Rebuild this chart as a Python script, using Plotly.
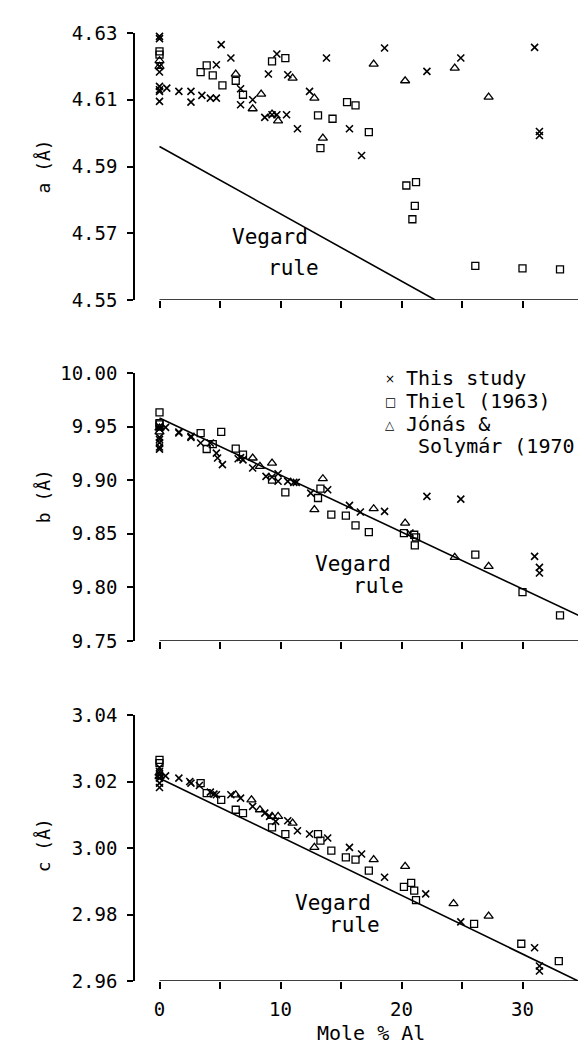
import plotly.graph_objects as go

# ---------------- data ----------------
# Panel a : lattice parameter a (Å)
this_x_a = [0, 0, 0, 0, 0, 0, 0, 0, 0, 0.6, 1.6, 2.6, 2.6, 3.5, 4.2, 4.7, 4.7, 5.1, 5.9, 6.7, 6.7,
            7.7, 8.7, 9.0, 9.3, 9.7, 9.7, 10.5, 10.6, 11.4, 12.4, 13.8, 15.7, 16.7, 18.6, 22.1, 24.9,
            31.0, 31.4, 31.4]
this_a = [4.6325, 4.6290, 4.6283, 4.6200, 4.6183, 4.6140, 4.6130, 4.6125, 4.6095, 4.6135, 4.6125,
          4.6125, 4.6093, 4.6113, 4.6105, 4.6105, 4.6205, 4.6265, 4.6225, 4.6133, 4.6085, 4.6100,
          4.6047, 4.6177, 4.6055, 4.6237, 4.6055, 4.6055, 4.6175, 4.6013, 4.6125, 4.6225, 4.6013,
          4.5933, 4.6255, 4.6185, 4.6225, 4.6257, 4.6005, 4.5993]
thiel_x_a = [0, 0, 3.4, 3.9, 4.4, 5.2, 6.3, 6.9, 9.3, 10.4, 13.1, 13.3, 14.3, 15.5, 16.2, 17.3,
             20.4, 21.2, 21.1, 20.9, 26.1, 30.0, 33.1]
thiel_a = [4.6245, 4.6235, 4.6183, 4.6203, 4.6173, 4.6143, 4.6157, 4.6115, 4.6215, 4.6225, 4.6053,
           4.5955, 4.6043, 4.6093, 4.6083, 4.6003, 4.5843, 4.5853, 4.5782, 4.5742, 4.5602, 4.5595,
           4.5592]
jonas_x_a = [0, 0, 6.3, 7.7, 8.4, 9.3, 9.8, 11.0, 12.8, 13.5, 17.7, 20.3, 24.4, 27.2]
jonas_a = [4.6217, 4.6200, 4.6177, 4.6073, 4.6117, 4.6057, 4.6037, 4.6165, 4.6105, 4.5985, 4.6207,
           4.6157, 4.6195, 4.6108]
vegard_x_a = [0, 22.8]
vegard_a = [4.596, 4.55]

# Panel b : lattice parameter b (Å)
this_x_b = [0, 0, 0, 0, 0, 0, 0, 0.5, 1.6, 1.6, 2.6, 2.6, 3.4, 4.2, 4.7, 4.8, 5.2, 6.5, 6.7, 6.9,
            7.7, 8.8, 9.3, 9.8, 9.8, 10.6, 11.1, 11.3, 12.5, 13.9, 15.7, 16.6, 18.6, 20.7, 22.1,
            24.9, 31.0, 31.4, 31.4]
this_b = [9.950, 9.948, 9.940, 9.938, 9.935, 9.931, 9.929, 9.9493, 9.944, 9.945, 9.940, 9.941,
          9.9347, 9.9347, 9.9253, 9.9207, 9.9145, 9.920, 9.921, 9.919, 9.9114, 9.9036, 9.903,
          9.899, 9.906, 9.8989, 9.898, 9.898, 9.888, 9.8911, 9.8765, 9.8703, 9.8709, 9.8507,
          9.8849, 9.8824, 9.8289, 9.8187, 9.8134]
thiel_x_b = [0, 0, 0, 3.4, 3.9, 4.4, 5.1, 6.3, 6.9, 9.3, 10.4, 13.1, 13.3, 14.2, 15.4, 16.2, 17.3,
             20.2, 21.05, 21.2, 21.1, 26.1, 30.0, 33.1]
thiel_b = [9.9633, 9.9533, 9.952, 9.944, 9.9291, 9.9337, 9.945, 9.9294, 9.9238, 9.9005, 9.8886,
           9.8834, 9.8921, 9.8678, 9.8669, 9.8579, 9.8516, 9.8507, 9.8491, 9.8467, 9.8392, 9.8305,
           9.7956, 9.7739]
jonas_x_b = [0, 0, 7.7, 8.3, 9.3, 12.8, 13.5, 17.7, 20.3, 24.4, 27.2]
jonas_b = [9.9487, 9.945, 9.9207, 9.9129, 9.916, 9.8725, 9.9014, 9.8734, 9.860, 9.828, 9.8196]
vegard_x_b = [0, 35]
vegard_b = [9.958, 9.772]

# Panel c : lattice parameter c (Å)
this_x_c = [0, 0, 0, 0, 0, 0, 0.5, 1.6, 2.5, 2.6, 3.3, 4.2, 4.5, 4.7, 5.9, 6.7, 7.7, 8.7, 9.1, 9.6,
            10.6, 11.4, 12.4, 13.9, 15.7, 16.7, 18.6, 22.0, 24.9, 31.0, 31.4, 31.4]
this_c = [3.0242, 3.0230, 3.0220, 3.0210, 3.0195, 3.0182, 3.0217, 3.021, 3.020, 3.0195, 3.0188,
          3.0168, 3.0162, 3.016, 3.016, 3.015, 3.0125, 3.0105, 3.0095, 3.008, 3.0082, 3.0052,
          3.0042, 3.003, 3.0002, 2.9982, 2.9912, 2.9862, 2.9778, 2.970, 2.9645, 2.963]
thiel_x_c = [0, 0, 3.4, 3.9, 5.1, 6.3, 6.9, 9.3, 10.4, 13.1, 13.3, 14.2, 15.4, 16.2, 17.3, 20.2,
             20.8, 21.05, 21.2, 26.0, 29.9, 33.0]
thiel_c = [3.0265, 3.0255, 3.0195, 3.0165, 3.0145, 3.0115, 3.0105, 3.0062, 3.0042, 3.0042, 3.0022,
           2.9992, 2.9972, 2.9965, 2.9932, 2.9883, 2.9895, 2.9872, 2.9843, 2.9772, 2.9712, 2.966]
jonas_x_c = [0, 0, 6.3, 7.6, 8.3, 9.3, 9.8, 11.0, 12.8, 17.7, 20.3, 24.3, 27.2]
jonas_c = [3.0225, 3.0215, 3.016, 3.0145, 3.0115, 3.0095, 3.0095, 3.0075, 3.0002, 2.9965, 2.9945,
           2.9833, 2.9795]
vegard_x_c = [0, 34.6]
vegard_c = [3.021, 2.96]

series_names = ["This study", "Thiel (1963)", "Jónás &", "Solymár (1970)"]
legend_symbols = ["×", "□", "△"]
x_tick_vals = [0, 5, 10, 15, 20, 25, 30, 35]
x_tick_text = ["0", "", "10", "", "20", "", "30", ""]
y_ticks_a = [4.55, 4.57, 4.59, 4.61, 4.63]
y_ticks_b = [9.75, 9.80, 9.85, 9.90, 9.95, 10.00]
y_ticks_c = [2.96, 2.98, 3.00, 3.02, 3.04]
y_titles = ["a (Å)", "b (Å)", "c (Å)"]
x_title = "Mole % Al"

# ---------------- figure ----------------
FONT = "DejaVu Sans Mono"
BLACK = "black"

styles = [
    dict(symbol="x-thin", size=7, line=dict(width=1.6, color=BLACK), color=BLACK),
    dict(symbol="square-open", size=7, line=dict(width=1.3, color=BLACK), color=BLACK),
    dict(symbol="triangle-up-open", size=8, line=dict(width=1.3, color=BLACK), color=BLACK),
]
trace_names = ["This study", "Thiel (1963)", "Jónás & Solymár (1970)"]

panels = [
    ("x", "y", [(this_x_a, this_a), (thiel_x_a, thiel_a), (jonas_x_a, jonas_a)], (vegard_x_a, vegard_a)),
    ("x2", "y2", [(this_x_b, this_b), (thiel_x_b, thiel_b), (jonas_x_b, jonas_b)], (vegard_x_b, vegard_b)),
    ("x3", "y3", [(this_x_c, this_c), (thiel_x_c, thiel_c), (jonas_x_c, jonas_c)], (vegard_x_c, vegard_c)),
]

fig = go.Figure()
for pi, (xa, ya, sers, veg) in enumerate(panels):
    fig.add_trace(go.Scatter(x=veg[0], y=veg[1], mode="lines", xaxis=xa, yaxis=ya,
                             line=dict(color=BLACK, width=1.6), showlegend=False,
                             name="Vegard rule", hoverinfo="skip"))
    for si, (sx, sy) in enumerate(sers):
        fig.add_trace(go.Scatter(x=sx, y=sy, mode="markers", xaxis=xa, yaxis=ya,
                                 marker=styles[si], name=trace_names[si],
                                 showlegend=False, cliponaxis=False))

W, H = 586, 1045
L, R, T, B = 127, 11, 25, 72
ph = H - T - B
px_per_unit = 12.1
xmin = 35 - (W - L - R) / px_per_unit
xr = [xmin, 35]

def pfrac(ypix):
    return (H - B - ypix) / ph

def xfrac(xpix):
    return (xpix - L) / (W - L - R)

domains = [[pfrac(292), 1.0], [pfrac(633), pfrac(365)], [0.0, pfrac(707)]]
yranges = [[4.55, 4.63], [9.75, 10.00], [2.96, 3.04]]
yticks = [y_ticks_a, y_ticks_b, y_ticks_c]

tickfont = dict(family=FONT, size=19, color=BLACK)
layout = dict(
    width=W, height=H, margin=dict(l=L, r=R, t=T, b=B),
    paper_bgcolor="white", plot_bgcolor="white",
    font=dict(family=FONT, color=BLACK),
    showlegend=False,
)
for i in range(3):
    sfx = "" if i == 0 else str(i + 1)
    layout["xaxis" + sfx] = dict(
        range=xr, anchor="y" + sfx, domain=[0, 1], showgrid=False, zeroline=False,
        showline=False, ticks="outside", ticklen=7, tickwidth=1.5, tickcolor=BLACK,
        tickvals=x_tick_vals, ticktext=x_tick_text if i == 2 else [""] * len(x_tick_vals),
        tickfont=tickfont, ticklabelstandoff=4, fixedrange=True)
    layout["yaxis" + sfx] = dict(
        range=yranges[i], anchor="x" + sfx, domain=domains[i], showgrid=False, zeroline=False,
        showline=True, linecolor=BLACK, linewidth=1.6, ticks="outside", ticklen=6,
        tickwidth=1.5, tickcolor=BLACK, tickvals=yticks[i], tickformat=".2f",
        tickfont=tickfont, ticklabelstandoff=6, fixedrange=True)
fig.update_layout(**layout)

# x-axis baselines (span only 0..35 like the original)
for i in range(3):
    sfx = "" if i == 0 else str(i + 1)
    fig.add_shape(type="line", xref="x" + sfx, yref="y" + sfx, x0=0, x1=35,
                  y0=yranges[i][0], y1=yranges[i][0], line=dict(color=BLACK, width=1.6))

# y-axis titles
ycent = [0.5, 0.54, 0.51]
for i in range(3):
    sfx = "" if i == 0 else str(i + 1)
    fig.add_annotation(text=y_titles[i], xref="paper", yref="y" + sfx + " domain",
                       x=xfrac(35), y=ycent[i], xanchor="center", yanchor="middle",
                       textangle=-90, showarrow=False, font=dict(family=FONT, size=18, color=BLACK))

# x-axis title
fig.add_annotation(text=x_title, xref="x3", yref="paper", x=17.5, y=pfrac(1025),
                   xanchor="center", yanchor="middle", showarrow=False,
                   font=dict(family=FONT, size=20, color=BLACK))

# "Vegard rule" labels
veg_labels = [("x", "y", 9.1, 4.569, 11.1, 4.5595),
              ("x2", "y2", 15.95, 9.822, 18.1, 9.8013),
              ("x3", "y3", 14.3, 2.9836, 16.1, 2.9767)]
for xa, ya, x1, y1, x2, y2 in veg_labels:
    fig.add_annotation(text="Vegard", xref=xa, yref=ya, x=x1, y=y1, showarrow=False,
                       xanchor="center", yanchor="middle", font=dict(family=FONT, size=21, color=BLACK))
    fig.add_annotation(text="rule", xref=xa, yref=ya, x=x2, y=y2, showarrow=False,
                       xanchor="center", yanchor="middle", font=dict(family=FONT, size=21, color=BLACK))

# legend (symbol + label annotations, pixel-placed)
leg_rows_y = [370, 393, 416]
for k in range(3):
    fig.add_annotation(text=legend_symbols[k], xref="paper", yref="paper",
                       x=xfrac(382), y=pfrac(leg_rows_y[k] + 1), xanchor="center", yanchor="middle",
                       showarrow=False, font=dict(family="DejaVu Sans", size=12, color=BLACK))
    fig.add_annotation(text=series_names[k], xref="paper", yref="paper",
                       x=xfrac(396), y=pfrac(leg_rows_y[k]), xanchor="left", yanchor="middle",
                       showarrow=False, font=dict(family=FONT, size=20, color=BLACK))
fig.add_annotation(text=series_names[3], xref="paper", yref="paper",
                   x=xfrac(408), y=pfrac(438), xanchor="left", yanchor="middle",
                   showarrow=False, font=dict(family=FONT, size=20, color=BLACK))

fig.write_html("out.html")
